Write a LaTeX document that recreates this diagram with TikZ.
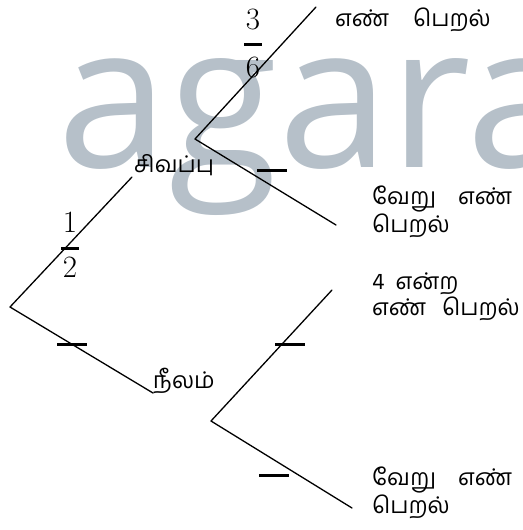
\documentclass[tikz,border=0pt]{standalone}
\usepackage{fontspec}
\newfontfamily\tamilfont[Script=Tamil]{Hind Madurai}
\newfontfamily\markfont{Open Sans}
\definecolor{markgray}{RGB}{182,192,201}

\begin{document}
\begin{tikzpicture}[x=1pt,y=-1pt,line cap=round,line join=round,
  lab/.style={font=\tamilfont\fontsize{23}{26}\selectfont,inner sep=0pt},
  outcome/.style={lab,align=left,anchor=north west},
  num/.style={font=\fontsize{31}{32}\selectfont,inner sep=0pt},
  fbar/.style={fill=black,minimum width=18pt,minimum height=3pt,inner sep=0pt},
  blank/.style={fill=black,minimum width=30pt,minimum height=3pt,inner sep=0pt},
  branch/.style={line width=1.3pt}]
\useasboundingbox (0,0) rectangle (522,530);
\node[markgray,font=\markfont\fontsize{200}{200}\selectfont,anchor=base west,inner sep=0pt] (mark) at (57,167) {agara};
\coordinate (root) at (10,307);
\coordinate (redin) at (132,177);
\coordinate (bluein) at (153,393);
\coordinate (redfork) at (195,139);
\coordinate (bluefork) at (211,421);
\coordinate (redfour) at (316,7);
\coordinate (redother) at (336,225);
\coordinate (bluefour) at (332,290);
\coordinate (blueother) at (352,508);
\draw[branch] (redin) -- (root) -- (bluein);
\draw[branch] (redfour) -- (redfork) -- (redother);
\draw[branch] (bluefour) -- (bluefork) -- (blueother);
\node[lab,anchor=west] (red) at (134,165) {சிவப்பு};
\node[lab,anchor=west] (blue) at (153,381) {நீலம்};
\node[num] (half1) at (70,222) {1};
\node[fbar] (halfbar) at (70,248) {};
\node[num] (half2) at (70,267) {2};
\node[num] (third1) at (253,20) {3};
\node[fbar] (thirdbar) at (253,44) {};
\node[num] (third2) at (253,68) {6};
\node[blank] (redq) at (272,170) {};
\node[blank] (blueq1) at (72,344) {};
\node[blank] (blueq2) at (290,344) {};
\node[blank] (blueq3) at (274,475) {};
\node[outcome] (rf) at (335,8) {எண்\hspace{24pt}பெறல்};
\node[outcome] (ro) at (372,186) {வேறு\hspace{22pt}எண்\\பெறல்};
\node[outcome] (bf) at (372,273) {4\hspace{11pt}என்ற\\எண்\hspace{16pt}பெறல்};
\node[outcome] (bo) at (372,467) {வேறு\hspace{22pt}எண்\\பெறல்};
\end{tikzpicture}
\end{document}
